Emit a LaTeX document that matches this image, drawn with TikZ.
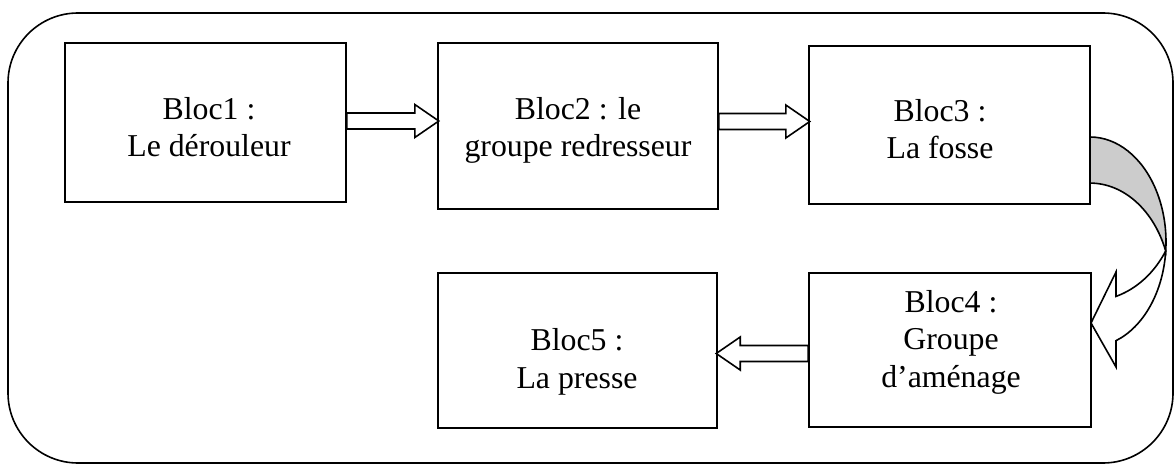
\documentclass[tikz,border=0pt]{standalone}
\usepackage{fontspec}
\setmainfont{Liberation Serif}
\usetikzlibrary{calc}
\begin{document}
\begin{tikzpicture}[x=1pt,y=-1pt,
  box/.style={draw, line width=1.6pt, rectangle, inner sep=0pt},
  txt/.style={align=center, anchor=base, inner sep=0pt, font=\fontsize{31.8}{37.5}\selectfont},
  barrow/.style={draw, line width=1.6pt, fill=white, line join=miter},
  curvedarrow/.style={draw, line width=1.6pt, line join=miter},
  frame/.style={draw, line width=1.6pt, rounded corners=70pt}]
\useasboundingbox (0,0) rectangle (1175,465);
\draw[frame] (8,13) rectangle (1173,463);
% boxes
\node[box, minimum width=281pt, minimum height=159pt] (b1) at (205.5,122.5) {};
\node[box, minimum width=280pt, minimum height=166pt] (b2) at (578,126) {};
\node[box, minimum width=281pt, minimum height=158pt] (b3) at (949.5,125) {};
\node[box, minimum width=282pt, minimum height=154pt] (b4) at (950,350) {};
\node[box, minimum width=279pt, minimum height=155pt] (b5) at (577.5,350.5) {};
% texts (anchor = baseline of the last line)
\node[txt] (t1) at (209,157) {Bloc1 :\\Le dérouleur};
\node[txt] (t2) at (578,157) {Bloc2 : le\\groupe redresseur};
\node[txt] (t3) at (940,159) {Bloc3 :\\La fosse};
\node[txt] (t4) at (951,387) {Bloc4 :\\Groupe\\d’aménage};
\node[txt] (t5) at (577,388) {Bloc5 :\\La presse};
% block arrows
\draw[barrow] ([yshift=1.5pt]b1.east) ++(0,-8) -- ++(68,0) -- ++(0,-8.5) -- ++(24,16.5) -- ++(-24,16.5) -- ++(0,-8.5) -- ++(-68,0) -- cycle;
\draw[barrow] ([yshift=4.5pt]b2.east) ++(0,-8) -- ++(67,0) -- ++(0,-8.5) -- ++(24,16.5) -- ++(-24,16.5) -- ++(0,-8.5) -- ++(-67,0) -- cycle;
\draw[barrow] ([yshift=-3.5pt]b4.west) ++(0,-8) -- ++(-68,0) -- ++(0,-8.5) -- ++(-24,16.5) -- ++(24,16.5) -- ++(0,-8.5) -- ++(68,0) -- cycle;
% curved arrow from Bloc3 to Bloc4
\draw[curvedarrow, fill=black!20] (1090,137) arc[start angle=-90, end angle=5, x radius=76, y radius=105]
  arc[start angle=-20.6, end angle=-90, x radius=80.9, y radius=105] -- cycle;
\draw[curvedarrow, fill=white] ($(1090,242)+(5:76 and 105)$) arc[start angle=5, end angle=70, x radius=76, y radius=105]
  -- (1116,367) -- (1091,323) -- (1116,272) -- (1116,296.4)
  arc[start angle=73, end angle=31.6, x radius=88.8, y radius=105] -- cycle;
\end{tikzpicture}
\end{document}
